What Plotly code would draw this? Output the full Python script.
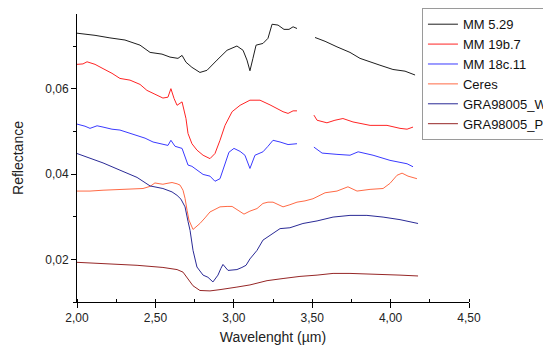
import plotly.graph_objects as go

# ---- data (wavelength in µm, reflectance) ----
mm529_wl = [2.000, 2.115, 2.210, 2.306, 2.402, 2.466, 2.542, 2.593, 2.644, 2.670, 2.695, 2.733,
            2.784, 2.829, 2.893, 2.957, 3.020, 3.059, 3.084, 3.103, 3.122, 3.142, 3.186, 3.218,
            3.244, 3.282, 3.320, 3.352, 3.378, 3.403, None,
            3.518, 3.582, 3.658, 3.741, 3.805, 3.869, 3.932, 4.015, 4.092, 4.156]
mm529_r = [0.0730, 0.0725, 0.0719, 0.0714, 0.0702, 0.0685, 0.0681, 0.0674, 0.0671, 0.0678, 0.0662, 0.0650,
           0.0638, 0.0643, 0.0667, 0.0690, 0.0700, 0.0690, 0.0667, 0.0642, 0.0671, 0.0702, 0.0706, 0.0718,
           0.0751, 0.0749, 0.0739, 0.0739, 0.0745, 0.0741, None,
           0.0720, 0.0711, 0.0698, 0.0685, 0.0671, 0.0662, 0.0655, 0.0645, 0.0641, 0.0632]

mm19b_wl = [2.000, 2.038, 2.064, 2.115, 2.166, 2.223, 2.274, 2.338, 2.402, 2.446, 2.497, 2.548,
            2.580, 2.599, 2.619, 2.638, 2.670, 2.682, 2.695, 2.708, 2.733, 2.765, 2.804, 2.848,
            2.880, 2.912, 2.944, 2.989, 3.040, 3.103, 3.167, 3.231, 3.314, 3.346, 3.378, 3.403, None,
            3.511, 3.531, 3.594, 3.645, 3.696, 3.760, 3.869, 3.977, 4.060, 4.105, 4.143]
mm19b_r = [0.0657, 0.0658, 0.0663, 0.0657, 0.0647, 0.0636, 0.0624, 0.0620, 0.0610, 0.0596, 0.0587, 0.0578,
           0.0580, 0.0600, 0.0577, 0.0561, 0.0569, 0.0549, 0.0530, 0.0495, 0.0471, 0.0456, 0.0444, 0.0436,
           0.0448, 0.0479, 0.0514, 0.0546, 0.0561, 0.0573, 0.0573, 0.0562, 0.0546, 0.0542, 0.0548, 0.0548, None,
           0.0538, 0.0526, 0.0520, 0.0526, 0.0530, 0.0522, 0.0514, 0.0514, 0.0507, 0.0505, 0.0510]

mm18c_wl = [2.000, 2.051, 2.083, 2.128, 2.166, 2.223, 2.274, 2.338, 2.383, 2.434, 2.485, 2.542,
            2.580, 2.599, 2.625, 2.670, 2.682, 2.708, 2.733, 2.765, 2.804, 2.848, 2.880, 2.912,
            2.944, 2.969, 3.001, 3.040, 3.071, 3.103, 3.135, 3.186, 3.218, 3.250, 3.295, 3.346, 3.403, None,
            3.511, 3.563, 3.658, 3.741, 3.793, 3.888, 3.996, 4.105, 4.143]
mm18c_r = [0.0517, 0.0512, 0.0507, 0.0513, 0.0510, 0.0505, 0.0503, 0.0496, 0.0491, 0.0484, 0.0475, 0.0471,
           0.0467, 0.0479, 0.0465, 0.0460, 0.0448, 0.0421, 0.0418, 0.0409, 0.0399, 0.0395, 0.0383, 0.0389,
           0.0425, 0.0451, 0.0460, 0.0453, 0.0444, 0.0413, 0.0444, 0.0452, 0.0465, 0.0479, 0.0475, 0.0469, 0.0471, None,
           0.0463, 0.0449, 0.0446, 0.0444, 0.0452, 0.0444, 0.0432, 0.0424, 0.0417]

ceres_wl = [2.000, 2.083, 2.166, 2.274, 2.370, 2.421, 2.466, 2.497, 2.529, 2.548, 2.574, 2.606,
            2.638, 2.657, 2.676, 2.689, 2.702, 2.714, 2.740, 2.765, 2.784, 2.816, 2.848, 2.880,
            2.912, 2.957, 2.989, 3.027, 3.065, 3.103, 3.148, 3.186, 3.218, 3.250, 3.314, 3.358,
            3.403, 3.454, 3.505, 3.582, 3.658, 3.728, 3.786, 3.869, 3.952, 3.996, 4.041, 4.073,
            4.111, 4.168]
ceres_r = [0.0360, 0.0360, 0.0362, 0.0363, 0.0365, 0.0366, 0.0371, 0.0379, 0.0377, 0.0376, 0.0378, 0.0380,
           0.0377, 0.0374, 0.0362, 0.0343, 0.0315, 0.0292, 0.0270, 0.0278, 0.0284, 0.0297, 0.0311, 0.0317,
           0.0323, 0.0324, 0.0324, 0.0315, 0.0306, 0.0313, 0.0319, 0.0331, 0.0334, 0.0334, 0.0323, 0.0328,
           0.0334, 0.0337, 0.0342, 0.0356, 0.0360, 0.0370, 0.0360, 0.0364, 0.0366, 0.0378, 0.0397, 0.0402,
           0.0395, 0.0389]

graw_wl = [2.000, 2.083, 2.166, 2.274, 2.383, 2.466, 2.548, 2.606, 2.638, 2.663, 2.689, 2.708,
           2.721, 2.740, 2.765, 2.804, 2.835, 2.867, 2.899, 2.918, 2.931, 2.963, 2.995, 3.020,
           3.052, 3.078, 3.103, 3.148, 3.186, 3.231, 3.295, 3.358, 3.441, 3.531, 3.633, 3.741,
           3.849, 3.952, 4.060, 4.175]
graw_r = [0.0448, 0.0437, 0.0426, 0.0409, 0.0392, 0.0372, 0.0366, 0.0358, 0.0350, 0.0341, 0.0323, 0.0289,
          0.0268, 0.0221, 0.0182, 0.0163, 0.0158, 0.0147, 0.0163, 0.0179, 0.0188, 0.0174, 0.0175, 0.0176,
          0.0181, 0.0186, 0.0201, 0.0221, 0.0245, 0.0256, 0.0272, 0.0274, 0.0284, 0.0290, 0.0299, 0.0303,
          0.0303, 0.0299, 0.0293, 0.0284]

grap_wl = [2.000, 2.166, 2.383, 2.548, 2.638, 2.676, 2.708, 2.740, 2.784, 2.848, 2.912, 2.957,
           3.020, 3.103, 3.212, 3.314, 3.422, 3.531, 3.633, 3.741, 3.849, 3.952, 4.060, 4.175]
grap_r = [0.0193, 0.0190, 0.0186, 0.0181, 0.0176, 0.0170, 0.0153, 0.0138, 0.0127, 0.0126, 0.0129, 0.0131,
          0.0135, 0.0140, 0.0150, 0.0155, 0.0160, 0.0163, 0.0167, 0.0167, 0.0166, 0.0165, 0.0163, 0.0161]

names = ["MM 5.29", "MM 19b.7", "MM 18c.11", "Ceres", "GRA98005_W", "GRA98005_P"]
colors = ["#1e1e1e", "#ff2424", "#3a3aff", "#ff6a45", "#2a2a96", "#962626"]
series = [(mm529_wl, mm529_r), (mm19b_wl, mm19b_r), (mm18c_wl, mm18c_r),
          (ceres_wl, ceres_r), (graw_wl, graw_r), (grap_wl, grap_r)]

fig = go.Figure()
for name, color, (wl, r) in zip(names, colors, series):
    fig.add_trace(go.Scatter(x=wl, y=r, mode="lines", name=name,
                             line=dict(color=color, width=1), connectgaps=False))

font = "Liberation Sans, Arial, sans-serif"
fig.update_layout(
    width=543, height=345,
    margin=dict(l=77, r=74, t=14, b=43, autoexpand=False),
    paper_bgcolor="white", plot_bgcolor="white",
    separators=",.",
    font=dict(family=font, size=12, color="#222"),
    showlegend=True,
    legend=dict(x=0.88, y=1.02, xanchor="left", yanchor="top",
                bordercolor="#9a9a9a", borderwidth=1, bgcolor="white",
                font=dict(family=font, size=13, color="#111"),
                tracegroupgap=0),
    xaxis=dict(range=[2.0, 4.5], tick0=2.0, dtick=0.5, tickformat=".2f", automargin=False,
               showgrid=False, zeroline=False, showline=True, linecolor="black", linewidth=1,
               ticks="outside", ticklen=5, tickcolor="black",
               minor=dict(dtick=0.25, ticks="inside", ticklen=3, tickcolor="black"),
               title=dict(text="Wavelenght (µm)", font=dict(size=14), standoff=8)),
    yaxis=dict(range=[0.01, 0.0775], tick0=0.02, dtick=0.02, tickformat=".2f", automargin=False,
               showgrid=False, zeroline=False, showline=True, linecolor="black", linewidth=1,
               ticks="outside", ticklen=5, tickcolor="black",
               minor=dict(dtick=0.01, ticks="outside", ticklen=3, tickcolor="black"),
               title=dict(text="Reflectance", font=dict(size=14), standoff=18)),
)

fig.write_html("out.html", config={"displayModeBar": False},
               post_script="document.body.style.margin='0px';")
